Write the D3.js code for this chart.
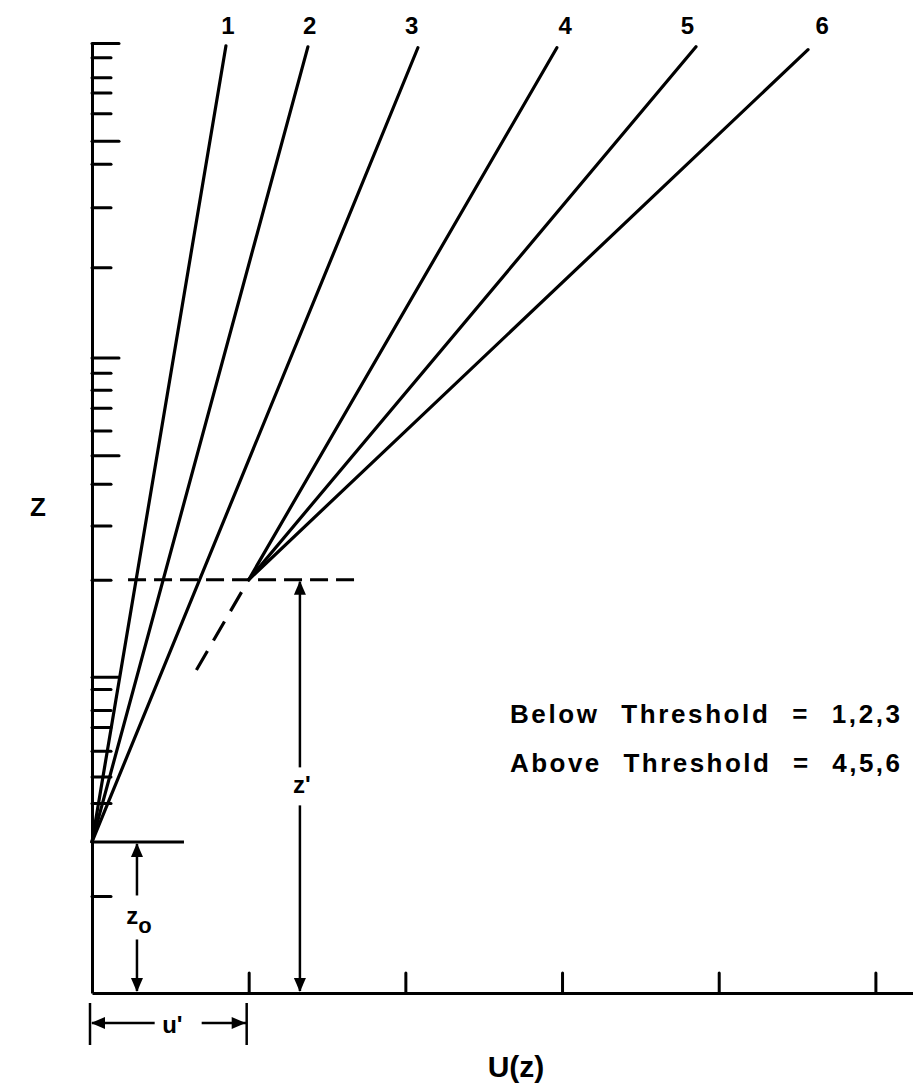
<!DOCTYPE html>
<html>
<head>
<meta charset="utf-8">
<script src="https://cdn.jsdelivr.net/npm/d3@7"></script>
<style>
  body { margin: 0; background: #fff; }
  text { font-family: "Liberation Sans", Arial, sans-serif; font-weight: bold; fill: #000; }
</style>
</head>
<body>
<div id="chart"></div>
<script>
// Profile lines (U in ticks of the U axis, Z in relative height units 0..100)
const profileLabels = ['1', '2', '3', '4', '5', '6'];
const startU = [0, 0, 0, 1, 1, 1];
const startZ = [15.9, 15.9, 15.9, 43.5, 43.5, 43.5];
const topU = [0.855, 1.378, 2.08, 2.967, 3.855, 4.57];
const topZ = [99.7, 99.6, 99.5, 99.5, 99.6, 99.3];
const labelU = [0.868, 1.39, 2.04, 3.02, 3.80, 4.66];
const labelZ = 100.9;

// Z axis ticks (long and short)
const zMajorTicks = [100, 89.7, 66.9, 56.6, 33.3];
const zMinorTicks = [98.5, 96.4, 94.8, 92.6, 87.3, 82.7, 76.4, 65.3, 63.5, 61.6, 59.2,
  53.6, 49.2, 43.5, 32.0, 29.8, 28.0, 25.5, 22.8, 20.0, 10.2];
// U axis ticks
const uTicks = [1, 2, 3, 4, 5];

// Reference levels
const z0 = 15.9;
const zPrime = 43.5;
const uPrime = 1;
const extensionEndZ = 34;

const notes = ['Below Threshold = 1,2,3', 'Above Threshold = 4,5,6'];

const width = 913, height = 1090;
const svg = d3.select('#chart').append('svg')
  .attr('width', width)
  .attr('height', height);

const x = d3.scaleLinear().domain([0, 5.24]).range([92, 913]);
const y = d3.scaleLinear().domain([0, 100]).range([993, 43]);

// Axes
svg.append('g')
  .attr('transform', `translate(${x(0)},0)`)
  .call(d3.axisLeft(y).tickValues(zMinorTicks).tickSize(-19).tickSizeOuter(0).tickFormat(''));
const yMajor = svg.append('g')
  .attr('transform', `translate(${x(0)},0)`)
  .call(d3.axisLeft(y).tickValues(zMajorTicks).tickSize(-27).tickSizeOuter(0).tickFormat(''));
yMajor.select('.domain').remove();

svg.append('g')
  .attr('transform', `translate(0,${y(0)})`)
  .call(d3.axisBottom(x).tickValues(uTicks).tickSize(-20).tickSizeOuter(0).tickFormat(''));

svg.selectAll('.domain, .tick line')
  .attr('stroke', '#000')
  .attr('stroke-width', 3);
svg.selectAll('.tick line').attr('stroke-linecap', 'round');

// Threshold dashed line and z0 line
svg.append('line')
  .attr('x1', x(0.23)).attr('x2', x(1.71))
  .attr('y1', y(zPrime)).attr('y2', y(zPrime))
  .attr('stroke', '#000').attr('stroke-width', 3)
  .attr('stroke-dasharray', '18,8');

svg.append('line')
  .attr('x1', x(0)).attr('x2', x(0.587))
  .attr('y1', y(z0)).attr('y2', y(z0))
  .attr('stroke', '#000').attr('stroke-width', 3);

// Profile lines
const profiles = profileLabels.map((label, i) => ({
  label,
  u0: startU[i], z0: startZ[i], u1: topU[i], z1: topZ[i], lu: labelU[i]
}));

svg.selectAll('.profile')
  .data(profiles)
  .enter()
  .append('line')
  .attr('class', 'profile')
  .attr('x1', d => x(d.u0)).attr('y1', d => y(d.z0))
  .attr('x2', d => x(d.u1)).attr('y2', d => y(d.z1))
  .attr('stroke', '#000')
  .attr('stroke-width', 3.2)
  .attr('stroke-linecap', 'round');

svg.selectAll('.profile-label')
  .data(profiles)
  .enter()
  .append('text')
  .attr('class', 'profile-label')
  .attr('x', d => x(d.lu))
  .attr('y', y(labelZ))
  .attr('text-anchor', 'middle')
  .style('font-size', '24px')
  .text(d => d.label);

// Dashed downward extension of line 4
const p4 = profiles[3];
const slope4 = (p4.u1 - p4.u0) / (p4.z1 - p4.z0);
const extStartZ = zPrime - 1.3;
svg.append('line')
  .attr('x1', x(p4.u0 + slope4 * (extStartZ - zPrime))).attr('y1', y(extStartZ))
  .attr('x2', x(p4.u0 + slope4 * (extensionEndZ - zPrime))).attr('y2', y(extensionEndZ))
  .attr('stroke', '#000').attr('stroke-width', 3.2)
  .attr('stroke-dasharray', '22,12');

// Arrow helper: filled triangle with its tip at (tx, ty)
function arrowHead(tx, ty, dir) {
  const L = 14, W = 6;
  let pts;
  if (dir === 'up') pts = [[tx, ty], [tx - W, ty + L], [tx + W, ty + L]];
  if (dir === 'down') pts = [[tx, ty], [tx - W, ty - L], [tx + W, ty - L]];
  if (dir === 'left') pts = [[tx, ty], [tx + L, ty - W], [tx + L, ty + W]];
  if (dir === 'right') pts = [[tx, ty], [tx - L, ty - W], [tx - L, ty + W]];
  svg.append('path').attr('d', d3.line()(pts) + 'Z').attr('fill', '#000');
}

function vDim(u, zTop, gapHalf, labelMain, labelSub) {
  const xx = x(u), yt = y(zTop), yb = y(0);
  const mid = (yt + yb) / 2;
  svg.append('line').attr('x1', xx).attr('x2', xx).attr('y1', yt + 2).attr('y2', mid - gapHalf)
    .attr('stroke', '#000').attr('stroke-width', 2.5);
  svg.append('line').attr('x1', xx).attr('x2', xx).attr('y1', mid + gapHalf).attr('y2', yb - 2)
    .attr('stroke', '#000').attr('stroke-width', 2.5);
  arrowHead(xx, yt + 1, 'up');
  arrowHead(xx, yb - 1, 'down');
  const t = svg.append('text')
    .attr('x', xx + 2)
    .attr('y', mid + 7)
    .attr('text-anchor', 'middle')
    .style('font-size', '24px');
  t.append('tspan').text(labelMain);
  if (labelSub) t.append('tspan').attr('dy', 9).style('font-size', '22px').text(labelSub);
}

vDim(0.287, z0, 22, 'z', 'o');
vDim(1.327, zPrime, 19, "z'", null);

// u' dimension below the axis
const uy = 1023;
svg.selectAll('.ubar')
  .data([0, uPrime])
  .enter()
  .append('line')
  .attr('x1', d => x(d) - 2).attr('x2', d => x(d) - 2)
  .attr('y1', 1003).attr('y2', 1045)
  .attr('stroke', '#000').attr('stroke-width', 2.5);
svg.append('line').attr('x1', x(0)).attr('x2', x(0.40)).attr('y1', uy).attr('y2', uy)
  .attr('stroke', '#000').attr('stroke-width', 2.5);
svg.append('line').attr('x1', x(0.70)).attr('x2', x(uPrime) - 2).attr('y1', uy).attr('y2', uy)
  .attr('stroke', '#000').attr('stroke-width', 2.5);
arrowHead(x(0) - 1, uy, 'left');
arrowHead(x(uPrime) - 3, uy, 'right');
svg.append('text')
  .attr('x', x(0.5) + 2)
  .attr('y', uy + 10)
  .attr('text-anchor', 'middle')
  .style('font-size', '24px')
  .text("u'");

// Axis titles
svg.append('text')
  .attr('x', 38).attr('y', 516)
  .attr('text-anchor', 'middle')
  .style('font-size', '26px')
  .text('Z');

svg.append('text')
  .attr('x', 516).attr('y', 1077)
  .attr('text-anchor', 'middle')
  .style('font-size', '30px')
  .text('U(z)');

// Threshold notes
svg.selectAll('.note')
  .data(notes)
  .enter()
  .append('text')
  .attr('class', 'note')
  .attr('x', 510)
  .attr('y', (d, i) => 723 + i * 49)
  .attr('textLength', 390)
  .attr('lengthAdjust', 'spacing')
  .style('font-size', '26px')
  .style('word-spacing', '12px')
  .text(d => d);
</script>
</body>
</html>
